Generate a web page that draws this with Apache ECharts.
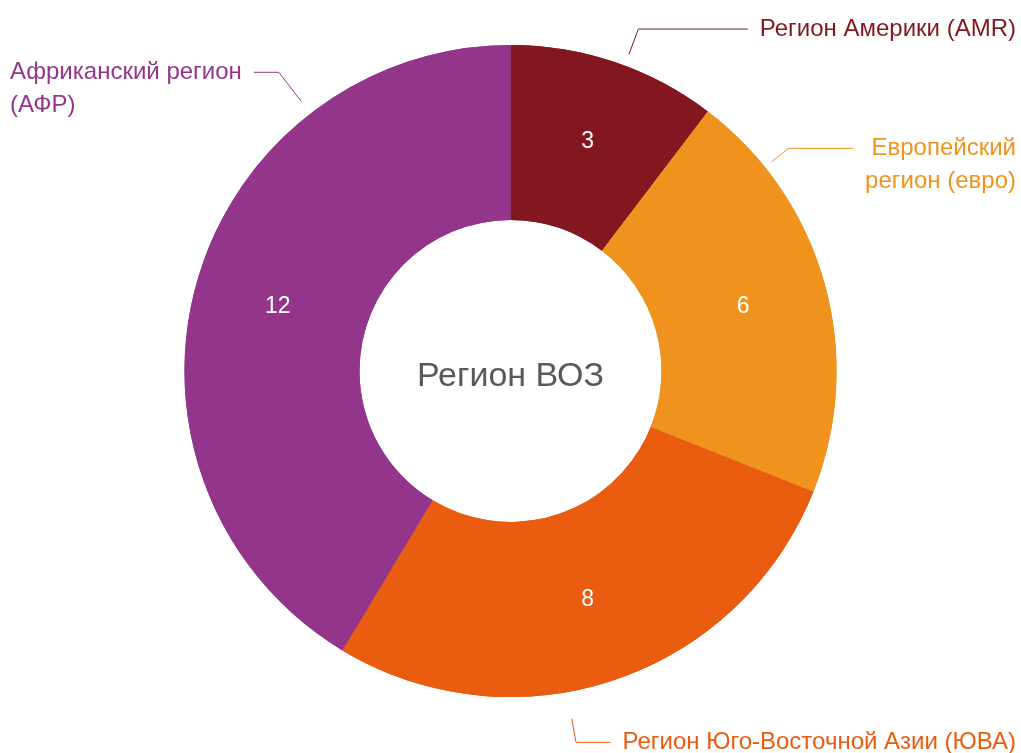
<!DOCTYPE html>
<html>
<head>
<meta charset="utf-8">
<title>Регион ВОЗ</title>
<script src="https://cdn.jsdelivr.net/npm/echarts@6/dist/echarts.min.js"></script>
<style>
  html, body { margin: 0; padding: 0; background: #fff; }
  #chart { width: 1021px; height: 753px; }
</style>
</head>
<body>
<div id="chart"></div>
<script>
// регионы ВОЗ, по часовой стрелке от 12 часов
const regions = [
  'Регион Америки (AMR)',
  'Европейский\nрегион (евро)',
  'Регион Юго-Восточной Азии (ЮВА)',
  'Африканский регион\n(АФР)'
];
const counts = [3, 6, 8, 12];

const colors = ['#83171f', '#f0921e', '#ea5c10', '#93368b'];
// выноски: угол выхода (градусы по часовой от верха), отступ от кольца, положение излома
const labelAngle = [20.5, 51.3, 170, -37.8];
const labelGap = [12, 9, 27, 15];
const labelReach = [39, 30, 51, 52];

const font = '"Liberation Sans", Arial, sans-serif';
const chart = echarts.init(document.getElementById('chart'));
const W = chart.getWidth(), H = chart.getHeight();
const cx = W * 0.5, cy = H * 0.4927;
const R = Math.min(W, H) / 2 * 0.866;
const lineH = 33;

// подписи прижаты к краям, выноска ломается горизонтально к первой строке
function placeLabel(params) {
  const i = params.dataIndex;
  const a = labelAngle[i] * Math.PI / 180;
  const right = Math.sin(a) > 0;
  const p0 = [cx + (R + labelGap[i]) * Math.sin(a), cy - (R + labelGap[i]) * Math.cos(a)];
  const p1 = [cx + (R + labelReach[i]) * Math.sin(a), cy - (R + labelReach[i]) * Math.cos(a)];
  const w = params.labelRect.width;
  const x = right ? W - 5 : 10;
  const endX = right ? x - w - 12 : x + w + 12;
  return {
    x: x,
    y: p1[1] - lineH / 2,
    align: right ? 'right' : 'left',
    verticalAlign: 'top',
    labelLinePoints: [p0, p1, [endX, p1[1]]]
  };
}

const pieBase = {
  type: 'pie',
  center: ['50%', '49.27%'],
  radius: ['40.1%', '86.6%'],
  startAngle: 90,
  clockwise: true,
  silent: true,
  avoidLabelOverlap: false,
  emphasis: { disabled: true },
  itemStyle: { borderWidth: 0 }
};

const option = {
  animation: false,
  backgroundColor: '#fff',
  color: colors,
  title: {
    text: 'Регион ВОЗ',
    left: 'center',
    top: 'middle',
    textStyle: { fontFamily: font, fontSize: 34, fontWeight: 'normal', color: '#595959' }
  },
  series: [
    Object.assign({}, pieBase, {
      name: 'names',
      data: regions.map((r, i) => ({
        name: r,
        value: counts[i],
        label: { color: colors[i] },
        labelLine: { lineStyle: { color: colors[i] } }
      })),
      label: {
        show: true,
        position: 'outside',
        formatter: '{b}',
        fontFamily: font,
        fontSize: 24,
        lineHeight: lineH
      },
      labelLine: { show: true, length: 30, length2: 15, lineStyle: { width: 1 } },
      labelLayout: placeLabel
    }),
    Object.assign({}, pieBase, {
      name: 'counts',
      data: regions.map((r, i) => ({ name: r, value: counts[i] })),
      label: {
        show: true,
        position: 'inside',
        formatter: '{c}',
        color: '#fff',
        fontFamily: font,
        fontSize: 23
      },
      labelLine: { show: false }
    })
  ]
};

chart.setOption(option);
</script>
</body>
</html>
